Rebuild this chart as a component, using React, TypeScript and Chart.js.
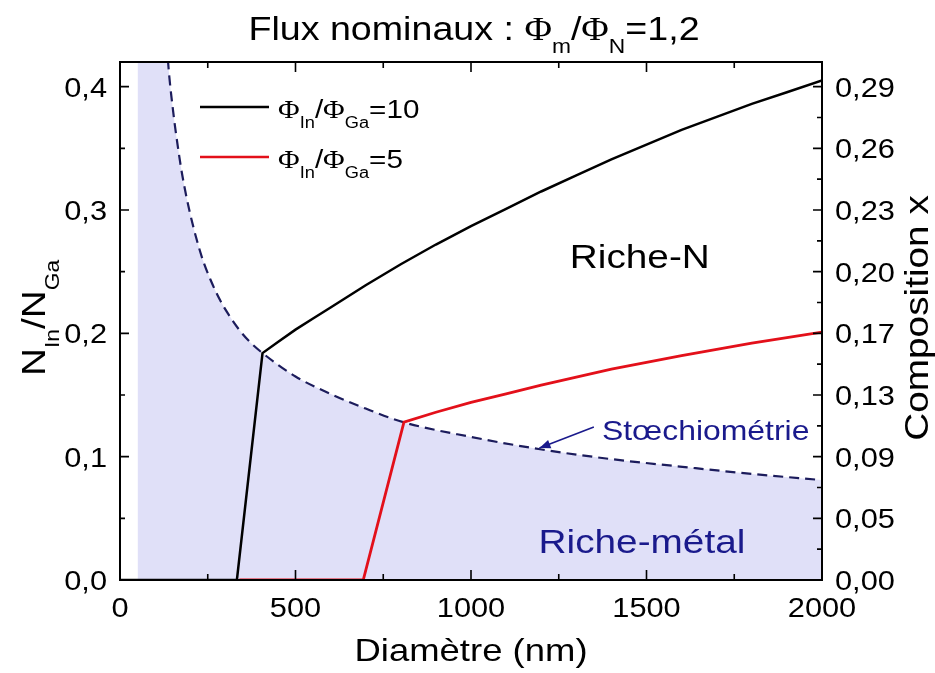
import React, { useEffect, useRef } from "react";
import { Chart, registerables } from "chart.js";

Chart.register(...registerables);

// ---- data ----
const stoichD = [50, 100, 137, 151, 165, 177, 199, 233, 260, 285, 310, 342, 370, 406, 500, 607, 700, 807, 1000, 1197, 1400, 1595, 1800, 2000];
const stoichV = [1.2, 0.6, 0.42, 0.381, 0.351, 0.329, 0.298, 0.262, 0.242, 0.227, 0.215, 0.202, 0.193, 0.184, 0.165, 0.15, 0.139, 0.128, 0.116, 0.106, 0.098, 0.092, 0.086, 0.081];

const ratio10D = [0, 333, 406, 450, 500, 550, 600, 700, 800, 900, 1000, 1100, 1200, 1300, 1400, 1500, 1600, 1700, 1800, 1900, 2000];
const ratio10V = [0, 0, 0.184, 0.193, 0.203, 0.212, 0.221, 0.239, 0.256, 0.272, 0.287, 0.301, 0.315, 0.328, 0.341, 0.353, 0.365, 0.3755, 0.386, 0.3955, 0.405];

const ratio5D = [340, 693, 809, 900, 1000, 1100, 1200, 1300, 1400, 1500, 1600, 1700, 1800, 1900, 2000];
const ratio5V = [0, 0, 0.128, 0.136, 0.144, 0.151, 0.158, 0.1645, 0.171, 0.1765, 0.182, 0.187, 0.192, 0.1965, 0.201];

const xTicksStep = 500;
const leftTickStep = 0.1;
const rightTickStep = 0.05;

const fmtX = (v: number) => String(Math.round(v));
const fmtLeft = (v: number) => v.toFixed(1).replace(".", ",");
const fmtRight = (v: number) => (v / (1 + v)).toFixed(2).replace(".", ",");

const SANS = '"Liberation Sans", Arial, sans-serif';
const SERIF = '"Liberation Serif", "DejaVu Serif", serif';
const NAVY = "#1a1a8c";
const SX = 1.14; // horizontal text stretch

type Part = { t: string; sub?: boolean; serif?: boolean };

function drawRich(ctx: CanvasRenderingContext2D, parts: Part[], x: number, y: number, size: number, color: string, align: "left" | "center" | "right") {
  const subSize = Math.round(size * 0.6);
  const fontFor = (p: Part) => `${p.sub ? subSize : size}px ${p.serif ? SERIF : SANS}`;
  let w = 0;
  for (const p of parts) { ctx.font = fontFor(p); w += ctx.measureText(p.t).width; }
  ctx.save();
  ctx.translate(x, y);
  ctx.scale(SX, 1);
  let cx = align === "center" ? -w / 2 : align === "right" ? -w : 0;
  ctx.fillStyle = color;
  ctx.textAlign = "left";
  ctx.textBaseline = "alphabetic";
  for (const p of parts) {
    ctx.font = fontFor(p);
    ctx.fillText(p.t, cx, p.sub ? size * 0.4 : 0);
    cx += ctx.measureText(p.t).width;
  }
  ctx.restore();
}

const decorPlugin = {
  id: "decor",
  afterDraw(chart: any) {
    const ctx: CanvasRenderingContext2D = chart.ctx;
    const { left, right, top, bottom } = chart.chartArea;
    const xs = chart.scales.x, yl = chart.scales.y, yr = chart.scales.y2;
    ctx.save();
    // frame
    ctx.strokeStyle = "#000";
    ctx.lineWidth = 2;
    ctx.strokeRect(left, top, right - left, bottom - top);
    // tick marks (inward)
    ctx.lineWidth = 1.6;
    ctx.beginPath();
    for (let v = 0; v <= 2000; v += xTicksStep / 2) {
      const px = xs.getPixelForValue(v);
      const len = v % xTicksStep === 0 ? 10 : 6;
      ctx.moveTo(px, bottom); ctx.lineTo(px, bottom - len);
      ctx.moveTo(px, top); ctx.lineTo(px, top + len);
    }
    for (let i = 0; i <= 8; i++) {
      const py = yl.getPixelForValue(i * 0.05);
      const len = i % 2 === 0 ? 9 : 5;
      ctx.moveTo(left, py); ctx.lineTo(left + len, py);
    }
    for (let i = 0; i <= 16; i++) {
      const py = yr.getPixelForValue(i * 0.025);
      const len = i % 2 === 0 ? 9 : 5;
      ctx.moveTo(right, py); ctx.lineTo(right - len, py);
    }
    ctx.stroke();

    // tick labels from the library's ticks
    const TS = 27;
    for (const t of xs.ticks) {
      drawRich(ctx, [{ t: fmtX(t.value) }], xs.getPixelForValue(t.value), bottom + 37, TS, "#000", "center");
    }
    for (const t of yl.ticks) {
      drawRich(ctx, [{ t: fmtLeft(t.value) }], left - 13, yl.getPixelForValue(t.value) + 10, TS, "#000", "right");
    }
    for (const t of yr.ticks) {
      drawRich(ctx, [{ t: fmtRight(t.value) }], right + 13, yr.getPixelForValue(t.value) + 10, TS, "#000", "left");
    }

    // title
    drawRich(ctx, [
      { t: "Flux nominaux : " }, { t: "Φ", serif: true }, { t: "m", sub: true },
      { t: "/" }, { t: "Φ", serif: true }, { t: "N", sub: true }, { t: "=1,2" },
    ], 474, 40, 33, "#000", "center");

    // x title
    drawRich(ctx, [{ t: "Diamètre (nm)" }], (left + right) / 2, 661, 32, "#000", "center");

    // left y title
    ctx.save();
    ctx.translate(45, 318);
    ctx.rotate(-Math.PI / 2);
    drawRich(ctx, [{ t: "N" }, { t: "In", sub: true }, { t: "/N" }, { t: "Ga", sub: true }], 0, 0, 34, "#000", "center");
    ctx.restore();

    // right y title
    ctx.save();
    ctx.translate(928, 318);
    ctx.rotate(-Math.PI / 2);
    drawRich(ctx, [{ t: "Composition x" }], 0, 0, 34, "#000", "center");
    ctx.restore();

    // legend
    const legend = [
      { color: "#000", label: "10", y: 107 },
      { color: "#e3101a", label: "5", y: 157 },
    ];
    for (const l of legend) {
      ctx.strokeStyle = l.color;
      ctx.lineWidth = 2.6;
      ctx.beginPath(); ctx.moveTo(200, l.y); ctx.lineTo(269, l.y); ctx.stroke();
      drawRich(ctx, [
        { t: "Φ", serif: true }, { t: "In", sub: true }, { t: "/" }, { t: "Φ", serif: true }, { t: "Ga", sub: true }, { t: "=" + l.label },
      ], 278, l.y + 11, 26, "#000", "left");
    }

    // annotations
    drawRich(ctx, [{ t: "Riche-N" }], xs.getPixelForValue(1481), yl.getPixelForValue(0.261) + 10, 34, "#000", "center");
    drawRich(ctx, [{ t: "Riche-métal" }], xs.getPixelForValue(1487), yl.getPixelForValue(0.032) + 12, 34, NAVY, "center");
    drawRich(ctx, [{ t: "Stœchiométrie" }], xs.getPixelForValue(1373), yl.getPixelForValue(0.122) + 10, 28, NAVY, "left");

    // arrow
    const ax0 = xs.getPixelForValue(1350), ay0 = yl.getPixelForValue(0.124);
    const ax1 = xs.getPixelForValue(1195), ay1 = yl.getPixelForValue(0.107);
    ctx.strokeStyle = NAVY;
    ctx.fillStyle = NAVY;
    ctx.lineWidth = 1.6;
    ctx.beginPath(); ctx.moveTo(ax0, ay0); ctx.lineTo(ax1, ay1); ctx.stroke();
    const ang = Math.atan2(ay1 - ay0, ax1 - ax0);
    const hl = 11, hw = 4.5;
    ctx.beginPath();
    ctx.moveTo(ax1, ay1);
    ctx.lineTo(ax1 - hl * Math.cos(ang) + hw * Math.sin(ang), ay1 - hl * Math.sin(ang) - hw * Math.cos(ang));
    ctx.lineTo(ax1 - hl * Math.cos(ang) - hw * Math.sin(ang), ay1 - hl * Math.sin(ang) + hw * Math.cos(ang));
    ctx.closePath(); ctx.fill();
    ctx.restore();
  },
};

const toPts = (xs: number[], ys: number[]) => xs.map((x, i) => ({ x, y: ys[i] }));

export default function App() {
  const ref = useRef<HTMLCanvasElement>(null);
  useEffect(() => {
    if (!ref.current) return;
    const hiddenTicks = { display: false, includeBounds: false };
    const chart = new Chart(ref.current, {
      type: "line",
      data: {
        datasets: [
          {
            label: "Φ_In/Φ_Ga=10",
            data: toPts(ratio10D, ratio10V),
            borderColor: "#000",
            borderWidth: 2.5,
            pointRadius: 0,
            tension: 0,
            fill: false,
            order: 1,
          },
          {
            label: "Φ_In/Φ_Ga=5",
            data: toPts(ratio5D, ratio5V),
            borderColor: "#e3101a",
            borderWidth: 2.8,
            pointRadius: 0,
            tension: 0,
            fill: false,
            order: 2,
          },
          {
            label: "Stœchiométrie",
            data: toPts(stoichD, stoichV),
            borderColor: "#1c1c5c",
            borderWidth: 2.2,
            borderDash: [10, 6],
            backgroundColor: "#e0e0f8",
            pointRadius: 0,
            cubicInterpolationMode: "monotone",
            fill: "origin",
            order: 3,
          },
        ],
      },
      options: {
        animation: false,
        responsive: false,
        layout: { padding: { top: 62, left: 0, right: 0, bottom: 0 } },
        plugins: { legend: { display: false }, title: { display: false }, tooltip: { enabled: false } },
        scales: {
          x: {
            type: "linear", position: "bottom", min: 0, max: 2000,
            grid: { display: false, drawTicks: false }, border: { display: false },
            ticks: { ...hiddenTicks, stepSize: xTicksStep },
            afterFit: (s: any) => { s.height = 93; },
          },
          y: {
            type: "linear", position: "left", min: 0, max: 0.42,
            grid: { display: false, drawTicks: false }, border: { display: false },
            ticks: { ...hiddenTicks, stepSize: leftTickStep },
            afterFit: (s: any) => { s.width = 120; },
          },
          y2: {
            type: "linear", position: "right", min: 0, max: 0.42,
            grid: { display: false, drawTicks: false }, border: { display: false },
            ticks: { ...hiddenTicks, stepSize: rightTickStep },
            afterFit: (s: any) => { s.width = 113; },
          },
        },
      },
      plugins: [decorPlugin],
    } as any);
    return () => chart.destroy();
  }, []);
  return (
    <div style={{ position: "fixed", left: 0, top: 0, width: 935, height: 673, background: "#fff" }}>
      <canvas ref={ref} width={935} height={673} style={{ display: "block" }} />
    </div>
  );
}
